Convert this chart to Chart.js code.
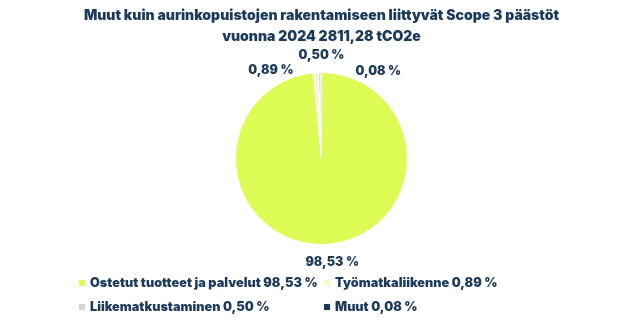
<!DOCTYPE html>
<html>
<head>
<meta charset="utf-8">
<script src="https://cdn.jsdelivr.net/npm/chart.js@4"></script>
<style>
  html, body { margin: 0; padding: 0; background: #fff; }
  #wrap { width: 643px; height: 323px; position: relative; }
</style>
</head>
<body>
<div id="wrap"><canvas id="scopeChart"></canvas></div>
<script>
const titleLines = ['Muut kuin aurinkopuistojen rakentamiseen liittyvät Scope 3 päästöt', 'vuonna 2024 2811,28 tCO2e'];
const categories = ['Ostetut tuotteet ja palvelut', 'Työmatkaliikenne', 'Liikematkustaminen', 'Muut'];
const shares = [98.53, 0.89, 0.50, 0.08];
const colors = ['#ddfb55', '#f1f9cd', '#d3d6da', '#17375e'];

const textColor = '#1b3a5c';
const fontFamily = 'Inter, Lato, sans-serif';

const fmt = v => v.toFixed(2).replace('.', ',') + ' %';

// label nudges, small slices pushed apart like in excel
const labelNudge = [[6, 2], [-44, 14], [2, -1], [57, 15]];

const pctLabels = {
    id: 'pctLabels',
    afterDatasetsDraw(chart) {
        const ctx = chart.ctx;
        const arcs = chart.getDatasetMeta(0).data;
        ctx.save();
        ctx.font = '900 12.5px ' + fontFamily;
        ctx.fillStyle = textColor;
        ctx.textAlign = 'center';
        ctx.textBaseline = 'middle';
        arcs.forEach((arc, i) => {
            const p = arc.getProps(['x', 'y', 'startAngle', 'endAngle', 'outerRadius'], true);
            const mid = (p.startAngle + p.endAngle) / 2;
            const r = p.outerRadius + 16;
            const x = p.x + Math.cos(mid) * r + labelNudge[i][0];
            const y = p.y + Math.sin(mid) * r + labelNudge[i][1];
            ctx.fillText(fmt(shares[i]), x, y);
        });
        ctx.restore();
    }
};

// two column legend under the pie
const gridLegend = {
    id: 'gridLegend',
    afterDraw(chart) {
        const ctx = chart.ctx;
        const cols = [82, 327];
        const rows = [283, 307];
        ctx.save();
        ctx.font = '900 12.7px ' + fontFamily;
        ctx.textBaseline = 'middle';
        ctx.textAlign = 'left';
        categories.forEach((c, i) => {
            const x = cols[i % 2];
            const y = rows[Math.floor(i / 2)];
            ctx.fillStyle = colors[i];
            ctx.fillRect(x - 3, y - 3, 6, 6);
            ctx.fillStyle = textColor;
            ctx.fillText(c + ' ' + fmt(shares[i]), x + 8, y);
        });
        ctx.restore();
    }
};

const scopeChart = new Chart(document.getElementById('scopeChart'), {
    type: 'pie',
    data: {
        labels: categories,
        datasets: [{
            data: shares,
            backgroundColor: colors,
            borderColor: '#ffffff',
            borderWidth: 1
        }]
    },
    options: {
        responsive: true,
        maintainAspectRatio: false,
        animation: false,
        layout: { padding: { top: 0, bottom: 78, left: 0, right: 0 } },
        plugins: {
            legend: { display: false },
            tooltip: { enabled: false },
            title: {
                display: true,
                text: titleLines,
                color: textColor,
                font: { family: fontFamily, size: 14, weight: '900', lineHeight: 1.5 },
                padding: { top: 5, bottom: 25 }
            }
        }
    },
    plugins: [pctLabels, gridLegend]
});
</script>
</body>
</html>
